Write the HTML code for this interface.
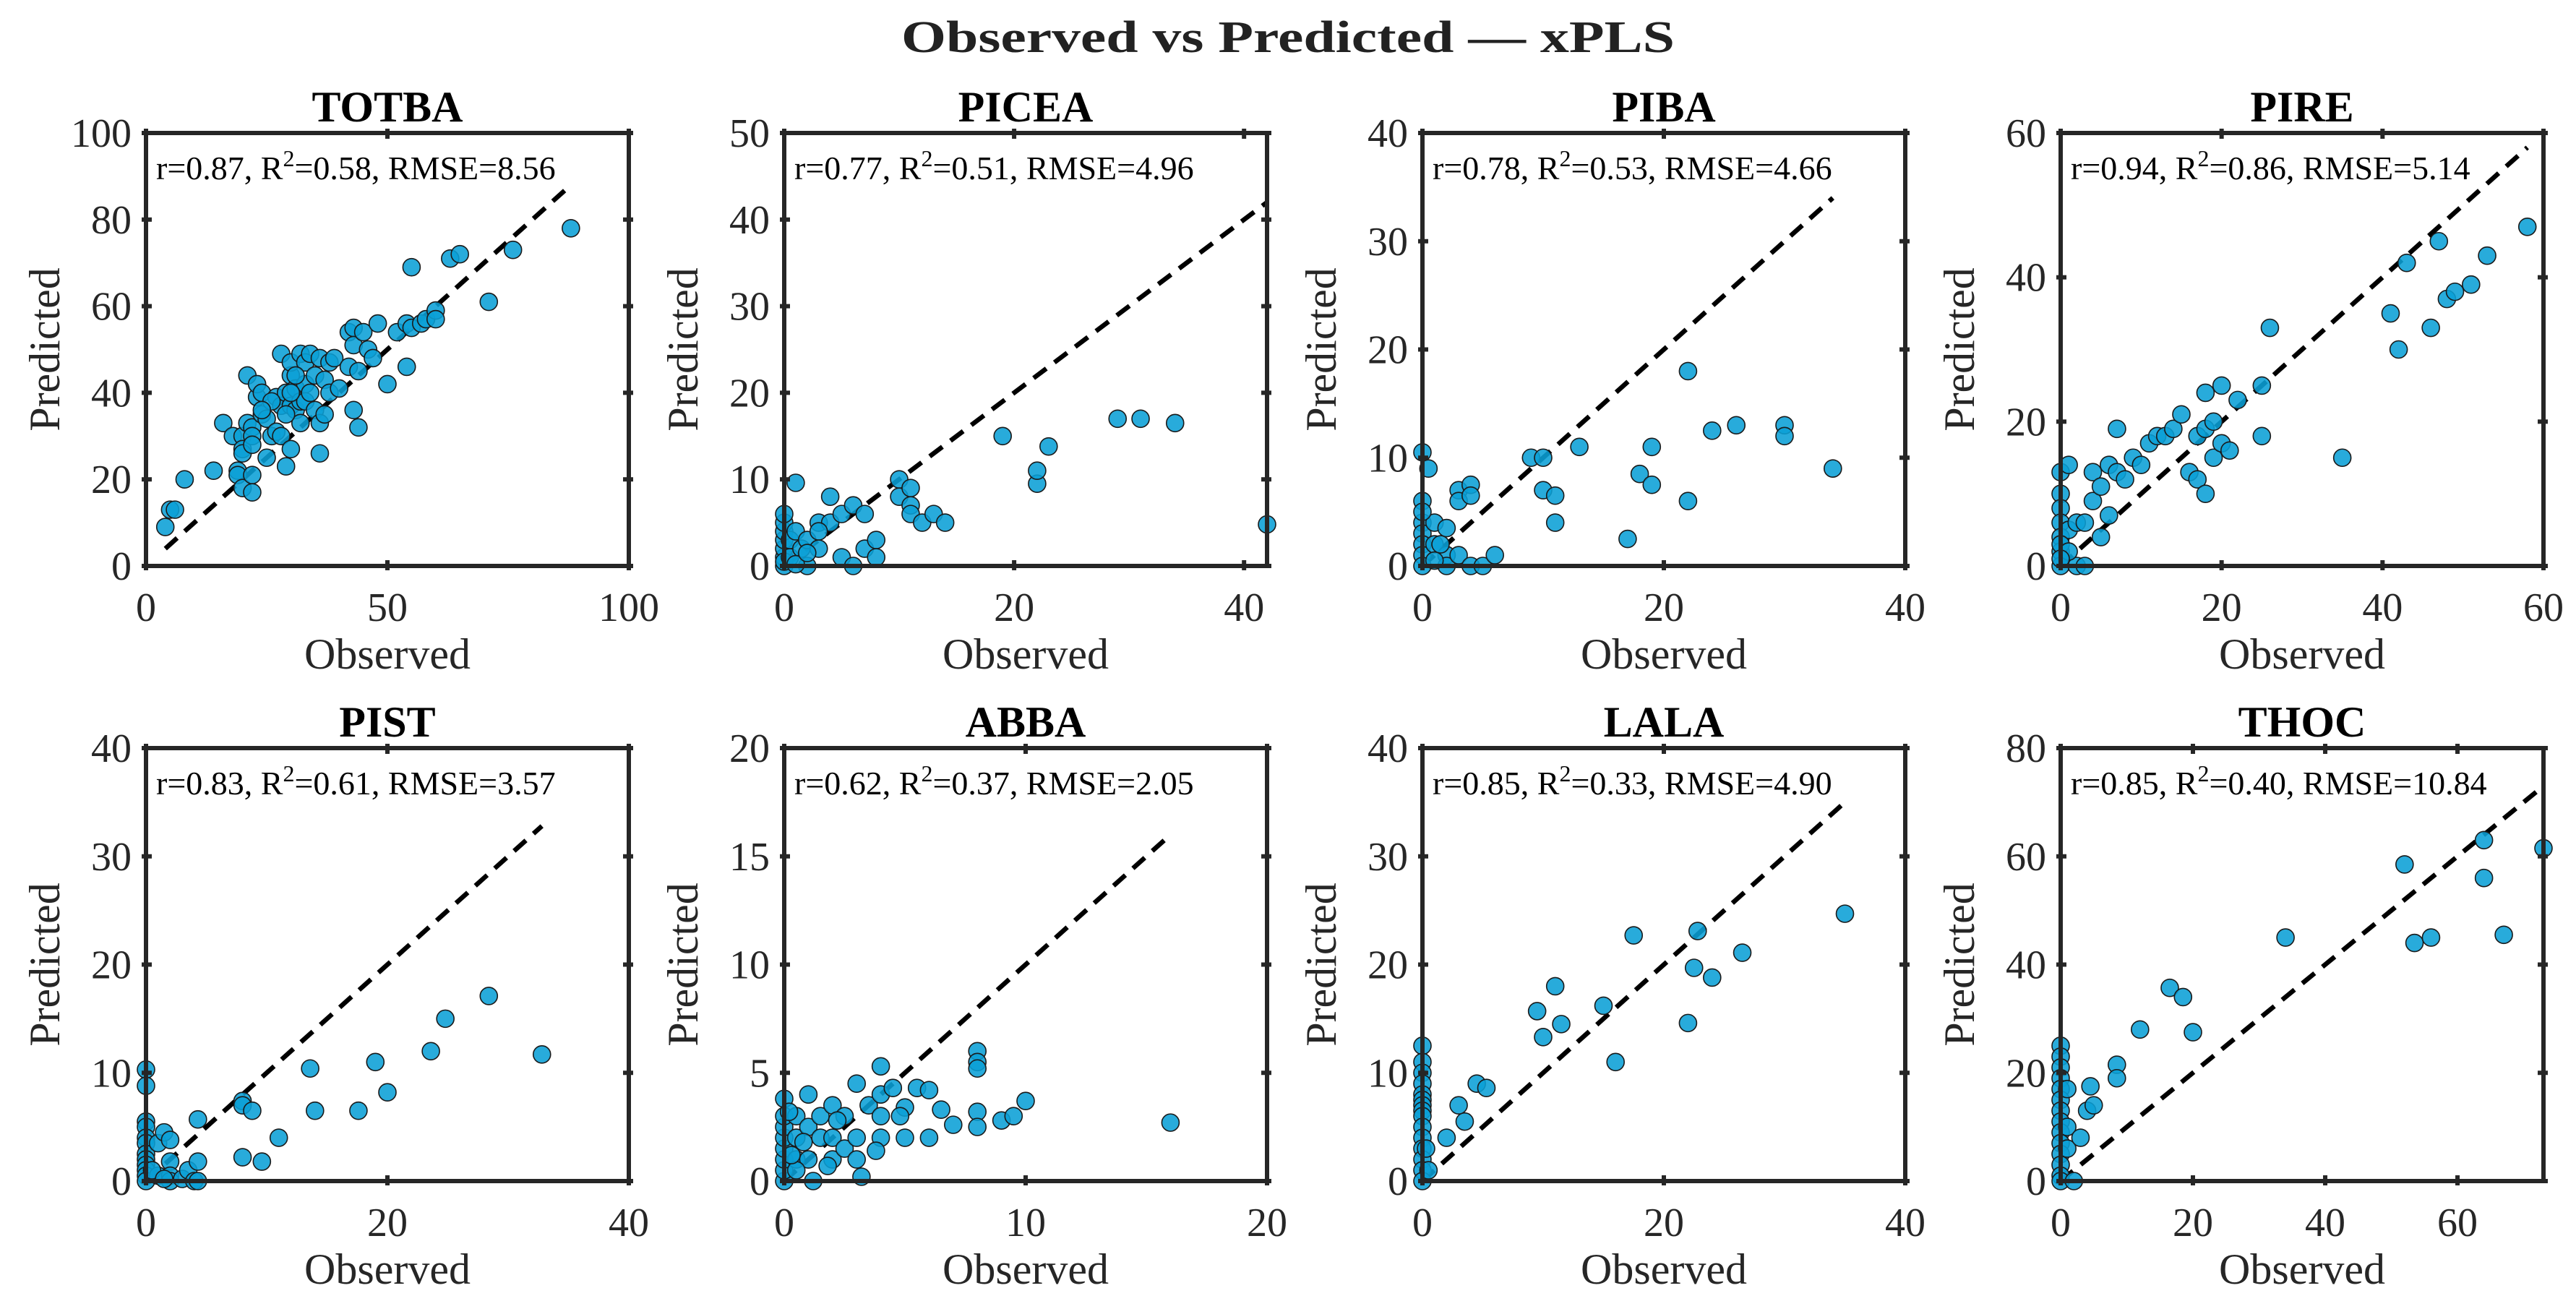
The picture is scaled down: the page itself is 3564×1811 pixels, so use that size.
<!DOCTYPE html>
<html><head><meta charset="utf-8">
<style>
html,body{margin:0;padding:0;background:#fff;}
svg, svg text{font-family:"Liberation Serif","DejaVu Serif",serif;}
svg{display:block;}
</style></head>
<body>
<svg id="fig" width="3564" height="1811" viewBox="0 0 3564 1811" xmlns="http://www.w3.org/2000/svg" font-family="Liberation Serif, serif">
<rect width="3564" height="1811" fill="#fff"/>
<text x="1782" y="72" text-anchor="middle" font-family="Liberation Serif, serif" font-size="62" font-weight="bold" fill="#222" textLength="1070" lengthAdjust="spacingAndGlyphs">Observed vs Predicted — xPLS</text>
</svg>
<script>
// ---- data (observed / predicted per species) ----
const panelNames = ["TOTBA","PICEA","PIBA","PIRE","PIST","ABBA","LALA","THOC"];
const statsText = ["r=0.87, |0.58, RMSE=8.56","r=0.77, |0.51, RMSE=4.96","r=0.78, |0.53, RMSE=4.66","r=0.94, |0.86, RMSE=5.14","r=0.83, |0.61, RMSE=3.57","r=0.62, |0.37, RMSE=2.05","r=0.85, |0.33, RMSE=4.90","r=0.85, |0.40, RMSE=10.84"];
const xMax = [100,42,40,60,40,20,40,73];
const yMax = [100,50,40,60,40,20,40,80];
const xTicks = [[0,50,100],[0,20,40],[0,20,40],[0,20,40,60],[0,20,40],[0,10,20],[0,20,40],[0,20,40,60]];
const yTicks = [[0,20,40,60,80,100],[0,10,20,30,40,50],[0,10,20,30,40],[0,20,40,60],[0,10,20,30,40],[0,5,10,15,20],[0,10,20,30,40],[0,20,40,60,80]];

const obsTOTBA = [4,5,6,8,14,16,18,19,19,20,20,20,20,21,21,22,22,22,22,22,23,23,24,24,25,25,26,27,27,28,28,28,29,29,30,30,30,30,31,31,32,32,32,33,33,33,34,35,35,36,36,36,37,37,38,38,39,40,42,42,43,43,43,44,44,45,46,47,48,50,52,54,54,55,55,57,58,60,60,63,65,71,76,88,30,34,26,24,29,31];
const predTOTBA = [9,13,13,20,22,33,30,22,21,30,27,26,18,44,33,32,30,28,21,17,39,42,35,40,34,25,30,39,31,49,37,30,40,23,27,37,44,47,41,36,38,33,49,47,42,38,49,44,36,33,26,48,43,35,47,40,48,41,54,46,55,36,51,32,45,54,50,48,56,42,54,56,46,55,69,56,57,59,57,71,72,61,73,78,40,40,38,36,35,44];
const obsPICEA = [0,0,0,0,0,0,0,0,0.5,0.5,1,1,1.5,2,2,3,3,4,4,5,5,6,6,7,7,8,8,10,10,11,11,11,12,13,14,19,22,22,23,29,31,34,42,1,2,3];
const predPICEA = [0,1,2,3,4,5,6,0.5,1,3,9.6,4,2,3,0,2,5,8,5,1,6,7,0,2,6,3,1,10,8,7,6,9,5,6,5,15,9.5,11,13.8,17,17,16.5,4.8,0.2,1.5,4];
const obsPIBA = [0,0,0,0,0,0,0,0.5,1,1,2,2,2,3,3,3,4,4,4,5,6,9,10,10,11,11,13,17,18,19,19,22,22,24,26,30,30,34,0,1,1.5];
const predPIBA = [10.5,6,4,3,2,1,0,9,2,4,1,0,3.5,1,7,6,7.5,6.5,0,0,1,10,10,7,6.5,4,11,2.5,8.5,11,7.5,18,6,12.5,13,13,12,9,5,0.5,2];
const obsPIRE = [0,0,0,0,0,0,0,1,1,2,2,3,3,4,4,5,5,6,6,7,7,8,9,10,11,12,13,14,15,16,17,17,18,18,18,19,19,20,20,21,22,25,25,26,35,41,42,43,46,47,48,49,51,53,58,0,1,0];
const predPIRE = [13,10,8,6,4,2,0,14,5,6,0,6,0,9,13,4,11,14,7,13,19,12,15,14,17,18,18,19,21,13,12,18,19,10,24,20,15,25,17,16,23,25,18,33,15,35,30,42,33,45,37,38,39,43,47,3,2,1];
const obsPIST = [0,0,0,0,0,0,0,0,0,0,0,0,1,1,1.5,2,2,2,2,3,3.5,4,4.3,4.3,4.3,8,8,8,8.8,9.6,11,13.6,14,17.6,19,20,23.6,24.8,28.4,32.8,0.5,1.5];
const predPIST = [10.3,8.8,5.5,5,4,3.5,2.5,2,1.5,1,0.5,0,0.5,3.5,4.5,3.8,1.8,0.5,0,0.2,1,0,5.7,1.8,0,7.4,7,2.2,6.5,1.8,4,10.4,6.5,6.5,11,8.2,12,15,17.1,11.7,1,0.2];
const obsABBA = [0,0,0,0,0,0,0,0,0.5,0.5,0.5,1,1,1,1.5,1.5,2,2,2,2.5,2.5,3,3,3,3.2,3.5,4,4,4,4,4.5,5,5,5.5,6,6,8,8,8,8,8,9,9.5,10,16,1.2,0.5,0.3,0.8,1.8,2.2,3.8,4.8,6.5,7,0.2];
const predABBA = [0,0.5,1,1.5,2,2.5,3,3.8,1,2,3,2.5,1,4,3,2,2,1,3.5,3,1.5,4.5,2,1,0.2,3.5,5.3,4,3,2,4.3,3.4,2,4.3,4.2,2,6,5.5,5.2,3.2,2.5,2.8,3,3.7,2.7,0,0.5,1.2,1.8,0.7,2.8,1.4,3,3.3,2.6,3.2];
const obsLALA = [0,0,0,0,0,0,0,0,0,0,0,0,0,0,0,2,3,3.5,4.5,5.3,9.5,10,11,11.5,15,16,17.5,22,22.5,22.8,24,26.5,35,0.3,0.5];
const predLALA = [12.5,11,10,9,8,7.5,7,6.5,6,5,4,3,2,1,0,4,7,5.5,9,8.6,15.7,13.3,18,14.5,16.2,11,22.7,14.6,19.7,23.1,18.8,21.1,24.7,3,1];
const obsTHOC = [0,0,0,0,0,0,0,0,0,0,0,0,0,0,1,1,1,2,3,4,4.5,5,8.5,8.5,12,16.5,18.5,20,34,52,53.5,56,64,64,67,73];
const predTHOC = [25,23,21,19,17,15,13,11,9,7,5,3,1,0,17,10,6,0,8,13,17.5,14,21.5,19,28,35.7,34,27.5,45,58.5,44,45,63,56,45.5,61.5];

const obsAll = [obsTOTBA,obsPICEA,obsPIBA,obsPIRE,obsPIST,obsABBA,obsLALA,obsTHOC];
const predAll = [predTOTBA,predPICEA,predPIBA,predPIRE,predPIST,predABBA,predLALA,predTHOC];

// ---- layout ----
const NS = "http://www.w3.org/2000/svg";
const svg = document.getElementById("fig");
const FONT = "Liberation Serif, serif";
const colLeft = [202,1085,1968,2851], rowTop = [184,1035], W = 668, H = 599;
function mk(tag, attrs, parent){ const e=document.createElementNS(NS,tag); for(const k in attrs) e.setAttribute(k,attrs[k]); if(tag==="text") e.setAttribute("font-family",FONT); (parent||svg).appendChild(e); return e; }

panelNames.forEach((name,i)=>{
  const L = colLeft[i%4], T = rowTop[Math.floor(i/4)], B = T+H, R = L+W;
  const sx = v => L + v/xMax[i]*W;
  const sy = v => B - v/yMax[i]*H;
  const g = mk("g",{});
  
  

  const t = mk("text",{x:L+W/2,y:T-16,"text-anchor":"middle","font-size":60,"font-weight":"bold",fill:"#000"},g);
  t.textContent = name;
  
  

  const xs = obsAll[i];
  const lo = Math.min(...xs), hi = Math.max(...xs);
  const ln = mk("line",{x1:sx(lo),y1:sy(lo),x2:sx(hi),y2:sy(hi),stroke:"#000","stroke-width":6.5,"stroke-dasharray":"22,14"},g);
  
  

  xs.forEach((xv,j)=>{
    const c = mk("circle",{cx:sx(xv),cy:sy(predAll[i][j]),r:12,fill:"#0a9fd6","fill-opacity":0.88,stroke:"#1a1a1a","stroke-width":1.6},g);
    
    
  });

  const box = mk("rect",{x:L,y:T,width:W,height:H,fill:"none",stroke:"#262626","stroke-width":6},g);
  
  

  xTicks[i].forEach(v=>{
    const x = sx(v);
    mk("line",{x1:x,y1:B+6,x2:x,y2:B-8,stroke:"#262626","stroke-width":6},g);
    mk("line",{x1:x,y1:T-6,x2:x,y2:T+8,stroke:"#262626","stroke-width":6},g);
    const tl = mk("text",{x:x,y:B+76,"text-anchor":"middle","font-size":56,fill:"#262626"},g);
    tl.textContent = v;
    
    
  });
  yTicks[i].forEach(v=>{
    const y = sy(v);
    mk("line",{x1:L-6,y1:y,x2:L+8,y2:y,stroke:"#262626","stroke-width":6},g);
    mk("line",{x1:R+6,y1:y,x2:R-8,y2:y,stroke:"#262626","stroke-width":6},g);
    const tl = mk("text",{x:L-20,y:y+19,"text-anchor":"end","font-size":56,fill:"#262626"},g);
    tl.textContent = v;
    
    
  });

  const xl = mk("text",{x:L+W/2,y:B+142,"text-anchor":"middle","font-size":60,fill:"#262626"},g);
  xl.textContent = "Observed";
  
  
  const yl = mk("text",{x:0,y:0,"text-anchor":"middle","font-size":60,fill:"#262626",transform:`translate(${L-120},${T+H/2}) rotate(-90)`},g);
  yl.textContent = "Predicted";
  
  

  const parts = statsText[i].split("|");
  const an = mk("text",{x:L+14,y:T+64,"font-size":46,fill:"#000"},g);
  
  
  const s1 = mk("tspan",{},an); s1.textContent = parts[0]+"R";
  const s2 = mk("tspan",{dy:-18,"font-size":32},an); s2.textContent = "2";
  const s3 = mk("tspan",{dy:18},an); s3.textContent = "="+parts[1];
});
</script>
</body></html>
